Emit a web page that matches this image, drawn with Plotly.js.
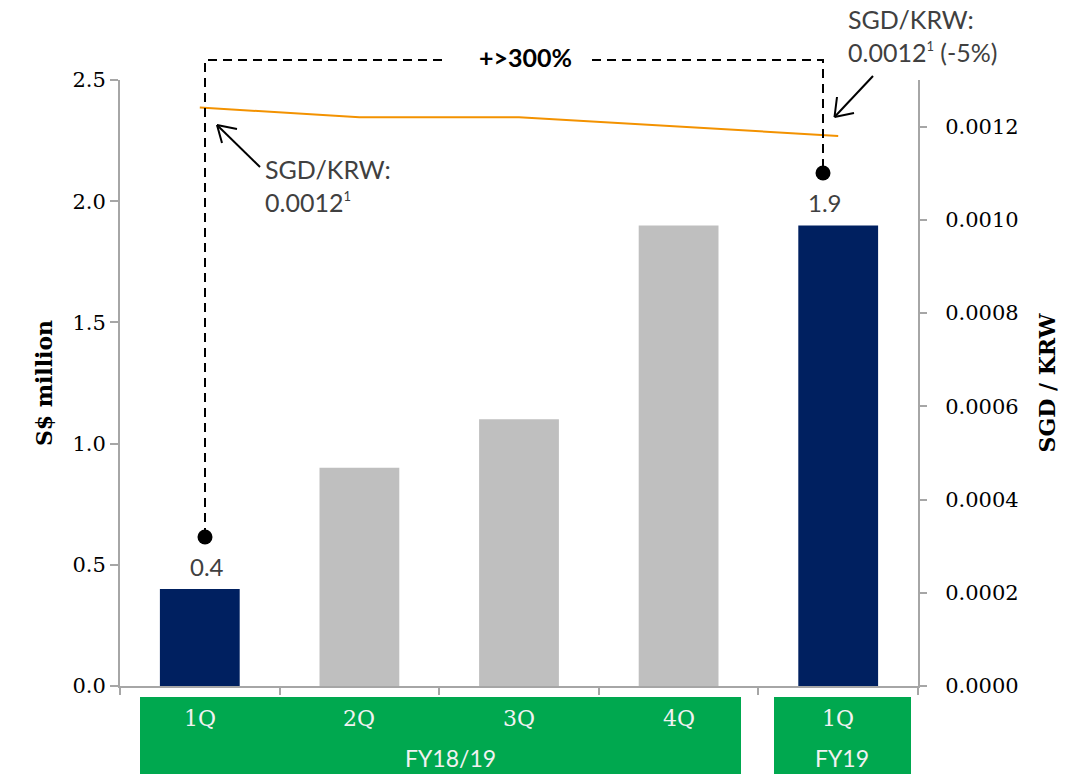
<!DOCTYPE html>
<html>
<head>
<meta charset="utf-8">
<script src="https://cdn.plot.ly/plotly-3.0.1.min.js"></script>
<style>html,body{margin:0;padding:0;background:#fff;}#chart{width:1076px;height:774px;}</style>
</head>
<body>
<div id="chart"></div>
<script>
// ---- data ----
const categories = [0, 1, 2, 3, 4];
const quarterLabels = ['1Q', '2Q', '3Q', '4Q', '1Q'];
const groupLabels = ['FY18/19', 'FY19'];
const revenue = [0.4, 0.9, 1.1, 1.9, 1.9];           // S$ million
const sgdKrw = [0.001241, 0.00122, 0.00122, 0.0012, 0.00118];
const barColors = ['#002060', '#bfbfbf', '#bfbfbf', '#bfbfbf', '#002060'];
const labelledIdx = [0, 4];
const leftTicks = [0, 0.5, 1.0, 1.5, 2.0, 2.5];
const rightTicks = [0, 0.0002, 0.0004, 0.0006, 0.0008, 0.0010, 0.0012];

const W = 1076, H = 774, ML = 120, MR = 158, MT = 80, MB = 88;
const PW = W - ML - MR, PH = H - MT - MB;
const px = x => (x - ML) / PW;          // pixel -> paper x
const py = y => (H - MB - y) / PH;      // pixel -> paper y

const axisGrey = '#a6a6a6';
const serif = 'DejaVu Serif';
const sans = 'Lato';

const traces = [
  {
    type: 'bar', x: categories, y: revenue, width: 0.5,
    marker: {color: barColors}, hoverinfo: 'skip', showlegend: false
  },
  {
    type: 'scatter', mode: 'lines', x: categories, y: sgdKrw, yaxis: 'y2',
    line: {color: '#f39200', width: 2}, hoverinfo: 'skip', showlegend: false
  }
];

const shapes = [];
// green category boxes
shapes.push({type: 'rect', xref: 'paper', yref: 'paper', layer: 'below',
  x0: px(140), x1: px(741), y0: py(697), y1: py(774), fillcolor: '#00a84f', line: {width: 0}});
shapes.push({type: 'rect', xref: 'paper', yref: 'paper', layer: 'below',
  x0: px(774), x1: px(911), y0: py(697), y1: py(774), fillcolor: '#00a84f', line: {width: 0}});
// dashed growth connector
const dashLine = {color: '#000', width: 2, dash: '9px,6px'};
shapes.push({type: 'path', xref: 'paper', yref: 'paper', line: dashLine,
  path: `M${px(205)},${py(537)} L${px(205)},${py(60)} L${px(447)},${py(60)}`});
shapes.push({type: 'path', xref: 'paper', yref: 'paper', line: dashLine,
  path: `M${px(592)},${py(60)} L${px(823)},${py(60)} L${px(823)},${py(173)}`});
// dots
[[205, 537], [823, 173]].forEach(([cx, cy]) => {
  shapes.push({type: 'circle', xref: 'paper', yref: 'paper', xsizemode: 'pixel', ysizemode: 'pixel',
    xanchor: px(cx), yanchor: py(cy), x0: -7.5, x1: 7.5, y0: -7.5, y1: 7.5,
    fillcolor: '#000', line: {width: 0}});
});
// arrows (tip anchored, offsets in pixels, y up)
function arrow(tx, ty, segs) {
  segs.forEach(s => shapes.push({type: 'line', xref: 'paper', yref: 'paper',
    xsizemode: 'pixel', ysizemode: 'pixel', xanchor: px(tx), yanchor: py(ty),
    x0: 0, y0: 0, x1: s[0], y1: s[1], line: {color: '#000', width: 2}}));
}
arrow(217, 125, [[43, -42], [20, -4], [5, -18]]);
arrow(834.5, 117, [[38.5, 41], [2.5, 20], [19.5, 4]]);

const annotations = [];
// quarter labels
quarterLabels.forEach((t, i) => annotations.push({
  xref: 'x', yref: 'paper', x: categories[i], y: py(718), text: t, showarrow: false,
  font: {family: serif, size: 22, color: '#f2f2f2'}, xanchor: 'center', yanchor: 'middle'}));
// group labels
[[groupLabels[0], 450], [groupLabels[1], 842]].forEach(([t, x]) => annotations.push({
  xref: 'paper', yref: 'paper', x: px(x), y: py(758), text: t, showarrow: false,
  font: {family: sans, size: 23, color: '#f2f2f2'}, xanchor: 'center', yanchor: 'middle'}));
// value labels
const labelShift = {0: 7, 4: -13};
labelledIdx.forEach(i => annotations.push({
  xref: 'x', yref: 'y', x: categories[i], y: revenue[i], text: revenue[i].toFixed(1),
  showarrow: false, xshift: labelShift[i], yshift: 23, xanchor: 'center', yanchor: 'middle',
  font: {family: sans, size: 24, color: '#404040'}}));
// growth label
annotations.push({xref: 'paper', yref: 'paper', x: px(525), y: py(57), text: '<b>+>300%</b>',
  showarrow: false, xanchor: 'center', yanchor: 'middle',
  font: {family: sans, size: 25, color: '#000'}});
// FX notes
const sup1 = '<sup><span style="font-size:13px">1</span></sup>';
annotations.push({xref: 'paper', yref: 'paper', x: px(263), y: py(152), xanchor: 'left', yanchor: 'top',
  align: 'left', showarrow: false, text: 'SGD/KRW:<br>0.0012' + sup1,
  font: {family: sans, size: 25, color: '#404040'}});
annotations.push({xref: 'paper', yref: 'paper', x: px(846), y: py(2), xanchor: 'left', yanchor: 'top',
  align: 'left', showarrow: false, text: 'SGD/KRW:<br>0.0012' + sup1 + ' (-5%)',
  font: {family: sans, size: 25, color: '#404040'}});

const layout = {
  width: W, height: H,
  margin: {l: ML, r: MR, t: MT, b: MB, pad: 0},
  paper_bgcolor: '#fff', plot_bgcolor: '#fff',
  showlegend: false,
  xaxis: {
    range: [-0.5, 4.5], tickmode: 'array',
    tickvals: [-0.5, 0.5, 1.5, 2.5, 3.5, 4.5], showticklabels: false,
    ticks: 'outside', ticklen: 7, tickwidth: 2, tickcolor: axisGrey,
    showline: true, linecolor: axisGrey, linewidth: 2, showgrid: false, zeroline: false, fixedrange: true
  },
  yaxis: {
    range: [0, 2.5], tickmode: 'array', tickvals: leftTicks,
    ticktext: leftTicks.map(v => v.toFixed(1)),
    ticks: 'outside', ticklen: 8, tickwidth: 2, tickcolor: axisGrey,
    showline: true, linecolor: axisGrey, linewidth: 2, showgrid: false, zeroline: false,
    tickfont: {family: serif, size: 21, color: '#000'},
    title: {text: '<b>S$ million</b>', font: {family: serif, size: 22, color: '#000'}, standoff: 14},
    fixedrange: true
  },
  yaxis2: {
    overlaying: 'y', side: 'right', range: [0, 0.0013], tickmode: 'array', tickvals: rightTicks,
    ticktext: rightTicks.map(v => v.toFixed(4)),
    ticks: 'outside', ticklen: 7, tickwidth: 2, tickcolor: axisGrey,
    showline: true, linecolor: axisGrey, linewidth: 2, showgrid: false, zeroline: false,
    ticklabelstandoff: 14,
    tickfont: {family: serif, size: 21, color: '#000'},
    title: {text: '<b>SGD / KRW</b>', font: {family: serif, size: 22, color: '#000'}, standoff: 22},
    fixedrange: true
  },
  shapes: shapes,
  annotations: annotations
};

Plotly.newPlot('chart', traces, layout, {displayModeBar: false, staticPlot: true});
</script>
</body>
</html>
